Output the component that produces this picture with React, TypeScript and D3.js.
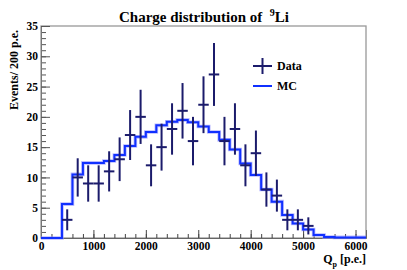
import { useRef, useEffect } from 'react';
import { select, scaleLinear, axisBottom, axisLeft, range, line, curveStepAfter, format } from 'd3';

// bin lower edges (p.e.), 200 p.e. wide
const binEdges = range(0, 6200, 200);
const dataCounts = [0, 0, 3, 10, 9, 9, 11, 13, 17, 20, 12, 15, 18, 21, 16, 22, 27, 16, 18, 12, 14, 8, 7, 3, 3, 2, 0, 0, 0, 0, 0];
const mcCounts = [0, 0, 5.6, 10.5, 12.4, 12.4, 12.7, 13.7, 15.2, 16.7, 17.5, 18.6, 19.2, 19.5, 19.1, 18.4, 17.5, 16.2, 14.6, 12.3, 10.4, 8.0, 6.0, 3.8, 2.4, 1.4, 0.5, 0.15, 0.1, 0.1, 0.1];
const xTicks = [0, 1000, 2000, 3000, 4000, 5000, 6000];
const yTicks = [0, 5, 10, 15, 20, 25, 30, 35];

const W = 407;
const H = 270;
const FONT = '"Liberation Serif", "DejaVu Serif", serif';
const NAVY = '#1b1b6b';
const BLUE = '#1030ff';

export default function App() {
  const ref = useRef<SVGSVGElement>(null);

  useEffect(() => {
    if (!ref.current) return;
    const svg = select(ref.current);
    svg.selectAll('*').remove();

    const x = scaleLinear().domain([0, 6200]).range([41, 366]);
    const y = scaleLinear().domain([0, 35]).range([238, 26]);

    // frame
    svg.append('rect')
      .attr('x', x(0)).attr('y', y(35))
      .attr('width', x(6200) - x(0)).attr('height', y(0) - y(35))
      .attr('fill', 'none').attr('stroke', '#999').attr('stroke-width', 1.3);

    // minor ticks
    svg.append('g')
      .attr('transform', `translate(0,${y(0)})`)
      .call(axisBottom(x).tickValues(range(0, 6201, 200)).tickSize(-4).tickFormat(() => ''))
      .call(g => g.select('.domain').remove())
      .selectAll('line').attr('stroke', '#444');
    svg.append('g')
      .attr('transform', `translate(${x(0)},0)`)
      .call(axisLeft(y).tickValues(range(0, 36, 1)).tickSize(-5).tickFormat(() => ''))
      .call(g => g.select('.domain').remove())
      .selectAll('line').attr('stroke', '#555');

    // major ticks + labels
    const gx = svg.append('g')
      .attr('transform', `translate(0,${y(0)})`)
      .call(axisBottom(x).tickValues(xTicks).tickSize(-8).tickPadding(4).tickFormat(format('d')));
    gx.select('.domain').attr('stroke', '#666');
    gx.selectAll('line').attr('stroke', '#444');
    gx.selectAll('text').attr('font-family', FONT).attr('font-weight', 'bold').attr('font-size', 11.5).attr('fill', '#000');

    const gy = svg.append('g')
      .attr('transform', `translate(${x(0)},0)`)
      .call(axisLeft(y).tickValues(yTicks).tickSize(-9).tickPadding(3));
    gy.select('.domain').attr('stroke', '#777');
    gy.selectAll('line').attr('stroke', '#555');
    gy.selectAll('text').attr('font-family', FONT).attr('font-weight', 'bold').attr('font-size', 11.5).attr('fill', '#000');

    // MC histogram as steps
    const pts: [number, number][] = binEdges.map((e, i) => [e, mcCounts[i]]);
    pts.push([6200, mcCounts[mcCounts.length - 1]]);
    const step = line<[number, number]>()
      .x(d => x(d[0]))
      .y(d => y(d[1]))
      .curve(curveStepAfter);
    svg.append('path').attr('d', step(pts)).attr('fill', 'none')
      .attr('stroke', '#8c8cff').attr('stroke-opacity', 0.6).attr('stroke-width', 3.6);
    svg.append('path').attr('d', step(pts)).attr('fill', 'none')
      .attr('stroke', BLUE).attr('stroke-width', 2);

    // data points with sqrt(N) errors
    const pg = svg.append('g').attr('stroke', NAVY).attr('stroke-width', 2);
    binEdges.forEach((e, i) => {
      const n = dataCounts[i];
      if (n <= 0) return;
      const err = Math.sqrt(n);
      const cx = x(e + 100);
      pg.append('line').attr('x1', cx).attr('x2', cx).attr('y1', y(n - err)).attr('y2', y(n + err));
      pg.append('line').attr('x1', x(e)).attr('x2', x(e + 200)).attr('y1', y(n)).attr('y2', y(n));
    });

    // legend
    const lg = svg.append('g');
    lg.append('line').attr('x1', 253).attr('x2', 272).attr('y1', 66).attr('y2', 66).attr('stroke', NAVY).attr('stroke-width', 2);
    lg.append('line').attr('x1', 262.5).attr('x2', 262.5).attr('y1', 58).attr('y2', 74).attr('stroke', NAVY).attr('stroke-width', 2);
    lg.append('text').attr('x', 277).attr('y', 70).text('Data')
      .attr('font-family', FONT).attr('font-weight', 'bold').attr('font-size', 12);
    lg.append('line').attr('x1', 253).attr('x2', 272).attr('y1', 86).attr('y2', 86).attr('stroke', BLUE).attr('stroke-width', 2);
    lg.append('text').attr('x', 277).attr('y', 90).text('MC')
      .attr('font-family', FONT).attr('font-weight', 'bold').attr('font-size', 12);

    // title
    const t = svg.append('text').attr('x', 204).attr('y', 22).attr('text-anchor', 'middle')
      .attr('font-family', FONT).attr('font-weight', 'bold').attr('font-size', 15)
      .style('white-space', 'pre');
    t.append('tspan').text('Charge distribution of  ');
    t.append('tspan').attr('font-size', 10).attr('dy', -6).text('9');
    t.append('tspan').attr('dy', 6).text('Li');

    // x label
    const xl = svg.append('text').attr('x', 366).attr('y', 263).attr('text-anchor', 'end')
      .attr('font-family', FONT).attr('font-weight', 'bold').attr('font-size', 12)
      .style('white-space', 'pre');
    xl.append('tspan').text('Q');
    xl.append('tspan').attr('font-size', 8).attr('dy', 4).text('p');
    xl.append('tspan').attr('dy', -4).text(' [p.e.]');

    // y label
    svg.append('text')
      .attr('transform', 'translate(18,30) rotate(-90)')
      .attr('text-anchor', 'end')
      .attr('font-family', FONT).attr('font-weight', 'bold').attr('font-size', 12)
      .text('Events/ 200 p.e.');
  }, []);

  return (
    <svg ref={ref} width={W} height={H} style={{ position: 'absolute', left: 0, top: 0, background: '#fff' }} />
  );
}
